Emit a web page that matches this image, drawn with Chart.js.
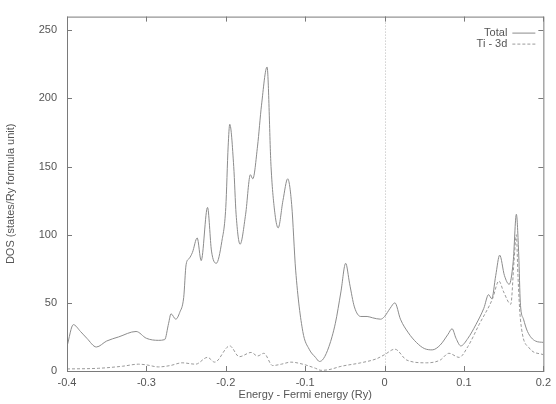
<!DOCTYPE html>
<html>
<head>
<meta charset="utf-8">
<script src="https://cdn.jsdelivr.net/npm/chart.js@4/dist/chart.umd.min.js"></script>
<style>
  html, body { margin: 0; padding: 0; background: #fff; }
  #wrap { width: 556px; height: 404px; }
</style>
</head>
<body>
<div id="wrap"><canvas id="dos"></canvas></div>
<script>
// energies (Ry, relative to Fermi level) and DOS values
const totalE = [-0.4, -0.392, -0.383, -0.375, -0.363, -0.35, -0.335, -0.313, -0.3, -0.285, -0.277,
  -0.272, -0.269, -0.263, -0.258, -0.253, -0.25, -0.246, -0.242, -0.236, -0.231, -0.223, -0.218,
  -0.212, -0.205, -0.2, -0.197, -0.195, -0.19, -0.187, -0.182, -0.175, -0.169, -0.166, -0.16,
  -0.155, -0.148, -0.143, -0.138, -0.134, -0.128, -0.122, -0.117, -0.112, -0.103, -0.095, -0.087,
  -0.082, -0.077, -0.07, -0.062, -0.055, -0.049, -0.044, -0.038, -0.03, -0.022, -0.015, -0.005,
  0.0, 0.007, 0.013, 0.02, 0.03, 0.04, 0.05, 0.06, 0.07, 0.08, 0.085, 0.09, 0.096, 0.105, 0.115,
  0.125, 0.131, 0.135, 0.14, 0.145, 0.151, 0.157, 0.162, 0.166, 0.169, 0.171, 0.175, 0.18, 0.19, 0.2];
const totalDos = [18, 34, 29, 24, 17.6, 22, 25, 29, 24, 22.5, 23,
  35, 42, 38, 43, 54, 78, 82.6, 87, 97.6, 81, 120, 88,
  79, 95, 120, 165, 181, 150, 115, 93, 115, 144, 141, 165,
  195, 223, 150, 115, 105, 125, 141, 122, 74, 29, 16, 10,
  7, 9, 18, 35, 58, 79, 64, 47, 40, 40, 39, 38,
  40, 46, 50, 38, 28, 21, 16.5, 15.5, 19, 27, 31, 24, 18.4, 24, 34,
  46, 56, 53, 70, 85, 70, 63.6, 80, 115, 85, 50, 38, 29, 22, 21];

const tiE = [-0.4, -0.36, -0.33, -0.31, -0.3, -0.285, -0.27, -0.255, -0.238, -0.223, -0.214,
  -0.195, -0.183, -0.168, -0.16, -0.152, -0.141, -0.13, -0.118, -0.103, -0.087, -0.08, -0.07,
  -0.055, -0.03, -0.01, 0.0, 0.013, 0.028, 0.053, 0.07, 0.081, 0.094, 0.105, 0.119, 0.136,
  0.144, 0.15, 0.159, 0.163, 0.166, 0.168, 0.171, 0.182, 0.2];
const tiDos = [1.5, 2, 3.5, 5, 4.5, 3, 4, 6, 5, 10, 6.5,
  18.4, 10.5, 13.6, 11, 13, 4, 5, 6.5, 5, 2, 0.5, 1,
  3.4, 6, 9, 12, 16, 8, 6, 8, 13, 10, 18, 34, 53,
  66, 58, 49, 80, 100, 70, 38.6, 17, 12];

const xTicks = [-0.4, -0.3, -0.2, -0.1, 0, 0.1, 0.2];
const yTicks = [0, 50, 100, 150, 200, 250];

const pts = (xs, ys) => xs.map((x, i) => ({ x: x, y: ys[i] }));
const axisGrey = '#7a7a7a';
const textGrey = '#555';

// gnuplot style frame: box, inward ticks on all sides, Fermi level line, legend
const framePlugin = {
  id: 'frame',
  afterDatasetsDraw(chart) {
    const { ctx, chartArea: a, scales } = chart;
    const xs = scales.x, ys = scales.y;
    ctx.save();
    // Fermi level
    ctx.strokeStyle = '#b8b8b8';
    ctx.lineWidth = 1;
    ctx.setLineDash([1, 2]);
    const x0 = Math.round(xs.getPixelForValue(0)) + 0.5;
    ctx.beginPath(); ctx.moveTo(x0, a.top); ctx.lineTo(x0, a.bottom); ctx.stroke();
    ctx.setLineDash([]);
    // box
    ctx.strokeStyle = axisGrey;
    ctx.strokeRect(a.left + 0.5, a.top + 0.5, a.right - a.left, a.bottom - a.top);
    // ticks
    ctx.beginPath();
    xTicks.forEach(v => {
      const p = Math.round(xs.getPixelForValue(v)) + 0.5;
      ctx.moveTo(p, a.bottom); ctx.lineTo(p, a.bottom - 5);
      ctx.moveTo(p, a.top); ctx.lineTo(p, a.top + 5);
    });
    yTicks.forEach(v => {
      const p = Math.round(ys.getPixelForValue(v)) + 0.5;
      ctx.moveTo(a.left, p); ctx.lineTo(a.left + 5, p);
      ctx.moveTo(a.right, p); ctx.lineTo(a.right - 5, p);
    });
    ctx.stroke();
    // legend
    ctx.font = '11px "Liberation Sans", Arial, sans-serif';
    ctx.textAlign = 'right';
    ctx.textBaseline = 'middle';
    chart.data.datasets.forEach((ds, i) => {
      const y = a.top + 16 + i * 11;
      ctx.fillStyle = textGrey;
      ctx.fillText(ds.label, a.right - 36, y);
      ctx.strokeStyle = ds.borderColor;
      ctx.setLineDash(ds.borderDash || []);
      ctx.beginPath(); ctx.moveTo(a.right - 31, y + 0.5); ctx.lineTo(a.right - 8, y + 0.5); ctx.stroke();
    });
    ctx.restore();
  }
};

new Chart(document.getElementById('dos'), {
  type: 'line',
  data: {
    datasets: [
      { label: 'Total', data: pts(totalE, totalDos), borderColor: '#8c8c8c', borderWidth: 1,
        pointRadius: 0, cubicInterpolationMode: 'monotone', fill: false },
      { label: 'Ti - 3d', data: pts(tiE, tiDos), borderColor: '#9a9a9a', borderWidth: 1,
        borderDash: [3, 2], pointRadius: 0, cubicInterpolationMode: 'monotone', fill: false }
    ]
  },
  options: {
    responsive: true,
    maintainAspectRatio: false,
    animation: false,
    layout: { padding: { top: 6, right: 11, left: 0, bottom: 0 } },
    plugins: { legend: { display: false }, tooltip: { enabled: false } },
    scales: {
      x: {
        type: 'linear', min: -0.4, max: 0.2,
        afterBuildTicks: s => { s.ticks = xTicks.map(v => ({ value: v })); },
        afterFit: s => { s.height = 33; },
        grid: { display: false, drawTicks: false },
        border: { display: false },
        ticks: { color: textGrey, padding: 5, font: { size: 11, family: '"Liberation Sans", Arial, sans-serif' } },
        title: { display: true, text: 'Energy - Fermi energy (Ry)', color: textGrey, padding: { top: 0, bottom: 2 },
          font: { size: 11, family: '"Liberation Sans", Arial, sans-serif' } }
      },
      y: {
        min: 0, max: 260,
        afterBuildTicks: s => { s.ticks = yTicks.map(v => ({ value: v })); },
        afterFit: s => { s.width = 67; },
        grid: { display: false, drawTicks: false },
        border: { display: false },
        ticks: { color: textGrey, padding: 10, font: { size: 11, family: '"Liberation Sans", Arial, sans-serif' } },
        title: { display: true, text: 'DOS (states/Ry formula unit)', color: textGrey, padding: { top: 4, bottom: 0 },
          font: { size: 11, family: '"Liberation Sans", Arial, sans-serif' } }
      }
    }
  },
  plugins: [framePlugin]
});
</script>
</body>
</html>
